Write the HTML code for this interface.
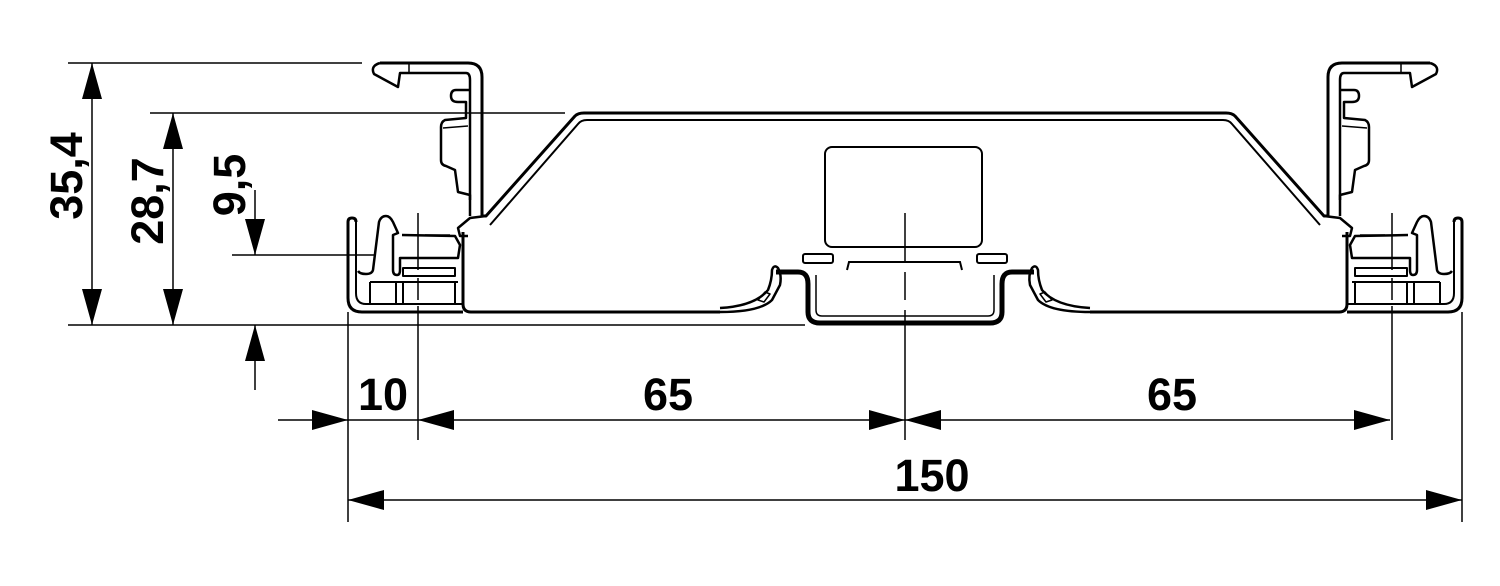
<!DOCTYPE html>
<html><head><meta charset="utf-8"><style>
html,body{margin:0;padding:0;background:#fff;}
svg{display:block}
text{font-family:"Liberation Sans",Arial,sans-serif;font-weight:bold;font-size:45px;fill:#000}
</style></head><body>
<svg width="1500" height="586" viewBox="0 0 1500 586" xmlns="http://www.w3.org/2000/svg">
<defs>
<g id="half" fill="none" stroke="#000" stroke-linejoin="round">
  <path d="M380,63 H468 Q482,63 482,77 V216" stroke-width="3"/>
  <path d="M380,63 Q370,66 374,74 L398,87 L400,73 H466 Q470,73 470,80 V200" stroke-width="2.5"/>
  <path d="M409,63 V73" stroke-width="1.5"/>
  <path d="M470,90 H456 Q451,90 451,96 Q451,102 458,102 H466 V118 L445,120 Q441,122 441,127 V160 Q441,165 446,166 L455,170 L458,192 L470,195 V216" stroke-width="2.5"/>
  <path d="M443,128 L468,126" stroke-width="1.5"/>
  <path d="M482,216 L486,216 L575,116 Q578,113 584,113 H1226" stroke-width="3"/>
  <path d="M490,225 L578,124 Q581,120 587,120 H1222" stroke-width="2"/>
  <path d="M486,216 L470,218 L458,228 L460,236 L468,236" stroke-width="2.5"/>
  <path d="M463,232 V304 Q463,312 471,312 H720" stroke-width="3"/>
  <path d="M352,218 Q348,218 348,222 V298 Q348,312 362,312 H463" stroke-width="3"/>
  <path d="M356,222 V293 Q356,304 366,304 H463" stroke-width="2"/>
  <path d="M352,218 Q356,218 356,222" stroke-width="3"/>
  <path d="M358,271 Q360,274 366,274 Q372,274 373,270 L379,222 Q381,216 386,216 Q390,216 393,222 L398,233 L393,235 V270 Q393,275 397,275 Q400,275 400,270 V258 H458 L460,245 L455,236 L402,235" stroke-width="2.5"/>
  <path d="M403,268 H455 V276 H403 Z" stroke-width="2"/>
  <path d="M370,282 V304 M396,282 V304 M403,282 V304 M455,282 V304 M370,282 H458" stroke-width="2"/>
  <path d="M410,235 H411 M425,235 H450" stroke-width="1.5"/>
  <path d="M720,312 Q760,312 772,300 L780,285 Q782,275 778,268 Q774,264 772,270 Q772,280 768,290 Q755,306 720,308" stroke-width="2.5"/>
  <path d="M758,300 L765,292 L770,294 L764,302 Z" stroke-width="1.5"/>
</g>
</defs>
<use href="#half"/>
<use href="#half" transform="translate(1810,0) scale(-1,1)"/>
<g fill="none" stroke="#000">
  <rect x="825" y="147" width="157" height="100" rx="7" stroke-width="2"/>
  <rect x="803" y="254" width="30" height="9" rx="2" stroke-width="2"/>
  <rect x="977" y="254" width="30" height="9" rx="2" stroke-width="2"/>
  <path d="M847,270 L849,262 H960 L962,270" stroke-width="2"/>
  <path d="M776,272 H798 Q808,272 808,284 V312 Q808,323 820,323 H990 Q1002,323 1002,312 V284 Q1002,272 1012,272 H1034" stroke-width="5"/>
  <path d="M816,275 V310 Q816,316 822,316 H988 Q994,316 994,310 V275" stroke-width="1.5"/>
  <path d="M905,213 V262 M905,272 V300 M905,310 V440" stroke-width="1.5"/>
  <path d="M418,213 V270 M418,278 V300 M418,306 V440" stroke-width="1.5"/>
  <path d="M1392,213 V270 M1392,278 V300 M1392,306 V440" stroke-width="1.5"/>
  <path d="M68,63 H362 M150,113 H565 M232,255 H375 M68,325 H805" stroke-width="1.5"/>
  <path d="M348,312 V522 M1462,312 V522" stroke-width="1.5"/>
  <path d="M92,63 V325 M173,113 V325 M255,190 V255 M255,325 V390" stroke-width="1.5"/>
  <path d="M278,420 H1390 M348,500 H1462" stroke-width="1.5"/>
</g>
<g fill="#000">
  <path d="M92,63 l-10,36 h20z M92,325 l-10,-36 h20z"/>
  <path d="M173,113 l-10,36 h20z M173,325 l-10,-36 h20z"/>
  <path d="M255,255 l-10,-36 h20z M255,325 l-10,36 h20z"/>
  <path d="M348,420 l-36,-10 v20z M418,420 l36,-10 v20z"/>
  <path d="M905,420 l-36,-10 v20z M905,420 l36,-10 v20z"/>
  <path d="M1390,420 l-36,-10 v20z"/>
  <path d="M348,500 l36,-10 v20z M1462,500 l-36,-10 v20z"/>
</g>
<text x="383" y="410" text-anchor="middle">10</text>
<text x="668" y="410" text-anchor="middle">65</text>
<text x="1172" y="410" text-anchor="middle">65</text>
<text x="932" y="491" text-anchor="middle">150</text>
<text transform="translate(82,176) rotate(-90)" text-anchor="middle">35,4</text>
<text transform="translate(163,201) rotate(-90)" text-anchor="middle">28,7</text>
<text transform="translate(245,185) rotate(-90)" text-anchor="middle">9,5</text>
</svg>
</body></html>
